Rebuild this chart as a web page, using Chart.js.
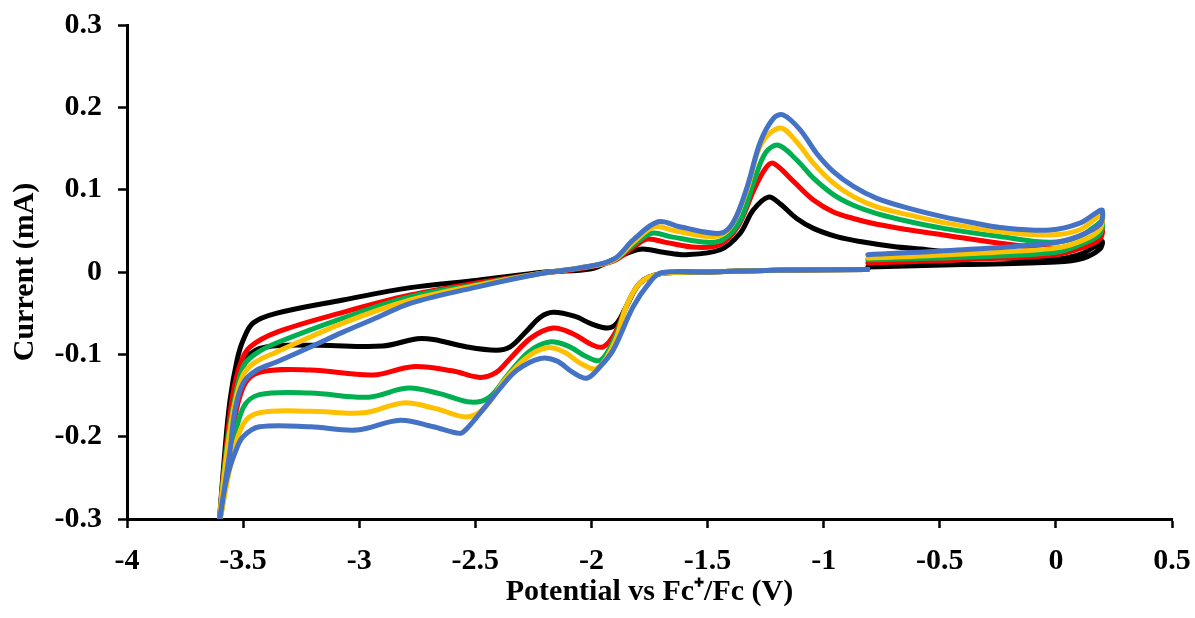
<!DOCTYPE html>
<html>
<head>
<meta charset="utf-8">
<script src="https://cdn.jsdelivr.net/npm/chart.js@4.4.1/dist/chart.umd.min.js"></script>
<style>
  body { margin: 0; background: #fff; }
  #wrap { width: 1195px; height: 618px; }
</style>
</head>
<body>
<div id="wrap"><canvas id="cv" width="1195" height="618"></canvas></div>
<script>
// Cyclic voltammograms: [potential (V), current (mA)], scan starts at -0.8 V going negative
const black = [
    [-0.81, 0.003], [-1.2, 0.002], [-1.5, 0.0], [-1.7, -0.002], [-1.79, -0.013], [-1.85, -0.042],
    [-1.89, -0.062], [-1.93, -0.068], [-2.0, -0.063], [-2.07, -0.054], [-2.165, -0.049], [-2.22, -0.055],
    [-2.28, -0.072], [-2.35, -0.091], [-2.41, -0.095], [-2.536, -0.091], [-2.68, -0.082], [-2.75, -0.081],
    [-2.9, -0.090], [-3.18, -0.089], [-3.4, -0.091], [-3.48, -0.103], [-3.53, -0.15], [-3.57, -0.22], [-3.6, -0.3],
    [-3.578, -0.216], [-3.556, -0.155], [-3.526, -0.107], [-3.5, -0.083], [-3.457, -0.062], [-3.354, -0.05],
    [-3.07, -0.034], [-2.78, -0.019], [-2.49, -0.01], [-2.2, 0.0], [-2.0, 0.004], [-1.907, 0.015],
    [-1.834, 0.024], [-1.78, 0.028], [-1.69, 0.024], [-1.59, 0.021], [-1.446, 0.027], [-1.36, 0.047],
    [-1.304, 0.075], [-1.238, 0.091], [-1.188, 0.083], [-1.116, 0.065], [-1.044, 0.053], [-0.944, 0.043],
    [-0.843, 0.037], [-0.7, 0.031], [-0.556, 0.027], [-0.313, 0.019], [-0.025, 0.015], [0.1, 0.021],
    [0.18, 0.033], [0.2, 0.037],
    [0.19, 0.028], [0.12, 0.017], [0.0, 0.012], [-0.4, 0.009], [-0.81, 0.006]
];
const red = [
    [-0.81, 0.003], [-1.2, 0.002], [-1.5, 0.0], [-1.7, -0.002], [-1.79, -0.013], [-1.85, -0.042],
    [-1.9, -0.075], [-1.95, -0.091], [-2.0, -0.088], [-2.08, -0.075], [-2.165, -0.068], [-2.26, -0.08],
    [-2.35, -0.105], [-2.41, -0.122], [-2.48, -0.128], [-2.6, -0.12], [-2.77, -0.115], [-2.94, -0.125],
    [-3.21, -0.119], [-3.43, -0.122], [-3.5, -0.14], [-3.55, -0.2], [-3.6, -0.3],
    [-3.575, -0.22], [-3.545, -0.15], [-3.51, -0.11], [-3.47, -0.091], [-3.354, -0.073], [-3.07, -0.049],
    [-2.78, -0.028], [-2.49, -0.013], [-2.2, -0.001], [-2.05, 0.004], [-1.907, 0.013], [-1.82, 0.03],
    [-1.76, 0.04], [-1.68, 0.036], [-1.55, 0.03], [-1.45, 0.033], [-1.37, 0.055], [-1.3, 0.1],
    [-1.25, 0.126], [-1.217, 0.132], [-1.13, 0.11], [-1.044, 0.0875], [-0.958, 0.073], [-0.872, 0.065],
    [-0.771, 0.058], [-0.628, 0.051], [-0.484, 0.045], [-0.24, 0.035], [-0.025, 0.029], [0.1, 0.033],
    [0.18, 0.048], [0.2, 0.052],
    [0.19, 0.04], [0.12, 0.03], [0.0, 0.021], [-0.4, 0.015], [-0.81, 0.011]
];
const green = [
    [-0.81, 0.003], [-1.2, 0.002], [-1.5, 0.0], [-1.7, -0.002], [-1.79, -0.013], [-1.85, -0.042],
    [-1.9, -0.08], [-1.96, -0.107], [-2.02, -0.103], [-2.1, -0.09], [-2.18, -0.085], [-2.27, -0.097],
    [-2.36, -0.125], [-2.44, -0.152], [-2.52, -0.158], [-2.65, -0.148], [-2.79, -0.141], [-2.96, -0.152],
    [-3.21, -0.147], [-3.43, -0.149], [-3.5, -0.165], [-3.55, -0.22], [-3.6, -0.3],
    [-3.573, -0.22], [-3.54, -0.16], [-3.5, -0.115], [-3.45, -0.1], [-3.354, -0.086], [-3.07, -0.056],
    [-2.78, -0.03], [-2.49, -0.015], [-2.2, -0.001], [-2.05, 0.005], [-1.907, 0.014], [-1.82, 0.033],
    [-1.74, 0.047], [-1.66, 0.043], [-1.5, 0.036], [-1.43, 0.04], [-1.36, 0.062], [-1.3, 0.11],
    [-1.25, 0.145], [-1.195, 0.154], [-1.116, 0.136], [-1.044, 0.114], [-0.958, 0.094], [-0.872, 0.081],
    [-0.771, 0.071], [-0.628, 0.061], [-0.484, 0.053], [-0.24, 0.043], [-0.025, 0.036], [0.1, 0.043],
    [0.18, 0.058], [0.2, 0.062],
    [0.19, 0.046], [0.12, 0.035], [0.0, 0.024], [-0.4, 0.018], [-0.81, 0.015]
];
const yellow = [
    [-0.81, 0.003], [-1.2, 0.002], [-1.5, 0.0], [-1.7, -0.002], [-1.79, -0.013], [-1.85, -0.042],
    [-1.9, -0.085], [-1.976, -0.117], [-2.04, -0.112], [-2.12, -0.097], [-2.19, -0.092], [-2.28, -0.104],
    [-2.37, -0.13], [-2.46, -0.165], [-2.536, -0.176], [-2.67, -0.166], [-2.81, -0.159], [-2.98, -0.171],
    [-3.21, -0.169], [-3.43, -0.171], [-3.5, -0.185], [-3.55, -0.23], [-3.6, -0.3],
    [-3.57, -0.22], [-3.54, -0.165], [-3.5, -0.125], [-3.45, -0.11], [-3.354, -0.097], [-3.07, -0.062],
    [-2.78, -0.034], [-2.49, -0.016], [-2.2, -0.001], [-2.05, 0.005], [-1.907, 0.014], [-1.82, 0.036],
    [-1.73, 0.055], [-1.64, 0.05], [-1.47, 0.043], [-1.4, 0.055], [-1.33, 0.1], [-1.27, 0.155],
    [-1.188, 0.175], [-1.116, 0.158], [-1.044, 0.132], [-0.958, 0.108], [-0.872, 0.0915], [-0.771, 0.079],
    [-0.628, 0.069], [-0.484, 0.06], [-0.24, 0.049], [-0.025, 0.045], [0.1, 0.051], [0.18, 0.067], [0.2, 0.07],
    [0.19, 0.052], [0.12, 0.039], [0.0, 0.029], [-0.4, 0.022], [-0.81, 0.017]
];
const blue = [
    [-0.81, 0.003], [-1.2, 0.002], [-1.5, 0.0], [-1.7, -0.001], [-1.75, -0.013], [-1.82, -0.042],
    [-1.907, -0.095], [-1.963, -0.115], [-2.02, -0.129], [-2.08, -0.122], [-2.15, -0.108], [-2.22, -0.105],
    [-2.32, -0.119], [-2.39, -0.14], [-2.47, -0.168], [-2.536, -0.19], [-2.566, -0.196], [-2.68, -0.188],
    [-2.824, -0.18], [-3.01, -0.192], [-3.21, -0.188], [-3.43, -0.188], [-3.5, -0.2], [-3.53, -0.216],
    [-3.57, -0.25], [-3.6, -0.3],
    [-3.556, -0.216], [-3.535, -0.168], [-3.5, -0.135], [-3.44, -0.119], [-3.354, -0.109], [-3.21, -0.091],
    [-3.07, -0.073], [-2.92, -0.055], [-2.78, -0.038], [-2.49, -0.018], [-2.2, -0.001], [-2.05, 0.005],
    [-1.907, 0.015], [-1.82, 0.039], [-1.713, 0.061], [-1.62, 0.055], [-1.446, 0.047], [-1.39, 0.06],
    [-1.33, 0.103], [-1.274, 0.157], [-1.218, 0.186], [-1.176, 0.191], [-1.102, 0.173], [-1.03, 0.144],
    [-0.958, 0.122], [-0.872, 0.104], [-0.771, 0.0895], [-0.628, 0.077], [-0.484, 0.067], [-0.341, 0.059],
    [-0.24, 0.054], [-0.025, 0.051], [0.1, 0.059], [0.18, 0.073], [0.2, 0.075],
    [0.19, 0.058], [0.093, 0.043], [-0.025, 0.035], [-0.4, 0.027], [-0.81, 0.021]
];

const xTicks = [-4, -3.5, -3, -2.5, -2, -1.5, -1, -0.5, 0, 0.5];
const xTickLabels = ['-4', '-3.5', '-3', '-2.5', '-2', '-1.5', '-1', '-0.5', '0', '0.5'];
const yTicks = [-0.3, -0.2, -0.1, 0, 0.1, 0.2, 0.3];
const yTickLabels = ['-0.3', '-0.2', '-0.1', '0', '0.1', '0.2', '0.3'];

const font = "'Liberation Serif', 'Times New Roman', serif";

function series(label, points, color, order) {
    return {
        label: label,
        data: points.map(p => ({ x: p[0], y: p[1] })),
        borderColor: color,
        backgroundColor: color,
        borderWidth: 5,
        pointRadius: 0,
        showLine: true,
        tension: 0.35,
        borderCapStyle: 'round',
        borderJoinStyle: 'round',
        order: order
    };
}

new Chart(document.getElementById('cv'), {
    type: 'scatter',
    data: {
        datasets: [
            series('black', black, '#000000', 4),
            series('red', red, '#FF0000', 3),
            series('green', green, '#00B050', 2),
            series('yellow', yellow, '#FFC000', 1),
            series('blue', blue, '#4472C4', 0)
        ]
    },
    options: {
        responsive: false,
        animation: false,
        layout: { padding: { left: 0, right: 23, top: 25, bottom: 0 } },
        plugins: { legend: { display: false }, tooltip: { enabled: false } },
        scales: {
            x: {
                type: 'linear',
                min: -4,
                max: 0.5,
                afterBuildTicks: axis => { axis.ticks = xTicks.map(v => ({ value: v })); },
                afterFit: axis => { axis.height = 99; axis.paddingLeft = 0; axis.paddingRight = 0; },
                ticks: {
                    callback: v => xTickLabels[xTicks.indexOf(v)],
                    color: '#000',
                    font: { family: font, size: 30, weight: 'bold' },
                    padding: 15,
                    maxRotation: 0
                },
                grid: { drawOnChartArea: false, tickLength: 9, tickColor: '#000', tickWidth: 2.5 },
                border: { color: '#000', width: 3 },
                title: {
                    display: true,
                    text: 'Potential vs Fc\u207A/Fc (V)',
                    color: '#000',
                    font: { family: font, size: 30, weight: 'bold' },
                    padding: { top: 0, bottom: 8 }
                }
            },
            y: {
                type: 'linear',
                min: -0.3,
                max: 0.3,
                afterBuildTicks: axis => { axis.ticks = yTicks.map(v => ({ value: v })); },
                afterFit: axis => { axis.width = 127; axis.paddingTop = 0; axis.paddingBottom = 0; },
                ticks: {
                    callback: v => yTickLabels[yTicks.indexOf(v)],
                    color: '#000',
                    font: { family: font, size: 30, weight: 'bold' },
                    padding: 16
                },
                grid: { drawOnChartArea: false, tickLength: 9, tickColor: '#000', tickWidth: 2.5 },
                border: { color: '#000', width: 3 },
                title: {
                    display: true,
                    text: 'Current (mA)',
                    color: '#000',
                    font: { family: font, size: 30, weight: 'bold' },
                    padding: { top: 7, bottom: 0 }
                }
            }
        }
    }
});
</script>
</body>
</html>
